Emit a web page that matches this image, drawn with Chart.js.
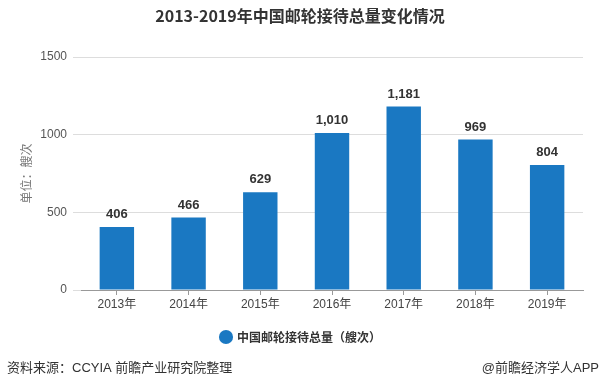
<!DOCTYPE html>
<html>
<head>
<meta charset="utf-8">
<script src="https://cdn.jsdelivr.net/npm/chart.js@4"></script>
<style>
  html, body { margin: 0; padding: 0; background: #fff; }
  #wrap { width: 599px; height: 391px; }
</style>
</head>
<body>
<div id="wrap"><canvas id="myChart" width="599" height="391"></canvas></div>
<script>
const years = ['2013年', '2014年', '2015年', '2016年', '2017年', '2018年', '2019年'];
const cruiseCalls = [406, 466, 629, 1010, 1181, 969, 804];
const yTicks = [0, 500, 1000, 1500];

const cjk = '"Liberation Sans", "Noto Sans CJK SC", sans-serif';

// draw value labels above bars, title and source line
const extras = {
  id: 'extras',
  afterDatasetsDraw(chart) {
    const ctx = chart.ctx;
    ctx.save();
    ctx.fillStyle = '#333';
    ctx.font = 'bold 13px ' + cjk;
    ctx.textAlign = 'center';
    ctx.textBaseline = 'bottom';
    chart.getDatasetMeta(0).data.forEach((bar, i) => {
      ctx.fillText(cruiseCalls[i].toLocaleString('en-US'), bar.x, bar.y - 6);
    });
    ctx.restore();
  },
  afterDraw(chart) {
    const ctx = chart.ctx;
    ctx.save();
    ctx.fillStyle = '#333';
    ctx.textBaseline = 'middle';
    ctx.textAlign = 'center';
    ctx.font = 'bold 16px "Noto Sans CJK SC", sans-serif';
    ctx.fillText('2013-2019年中国邮轮接待总量变化情况', 300, 16);
    ctx.font = '13px ' + cjk;
    ctx.textAlign = 'left';
    ctx.fillText('资料来源：CCYIA 前瞻产业研究院整理', 7, 368);
    ctx.textAlign = 'right';
    ctx.fillText('@前瞻经济学人APP', 599, 368);
    ctx.restore();
  }
};

new Chart(document.getElementById('myChart'), {
  type: 'bar',
  data: {
    labels: years,
    datasets: [{
      label: '中国邮轮接待总量（艘次）',
      data: cruiseCalls,
      backgroundColor: '#1a78c2',
      barPercentage: 0.48,
      categoryPercentage: 1
    }]
  },
  options: {
    responsive: false,
    animation: false,
    layout: { padding: { top: 57, right: 16, left: 19, bottom: 38 } },
    plugins: {
      title: { display: false },
      tooltip: { enabled: false },
      legend: {
        position: 'bottom',
        labels: {
          usePointStyle: true,
          pointStyle: 'circle',
          boxWidth: 10,
          boxHeight: 10,
          color: '#333',
          font: { family: '"Noto Sans CJK SC", sans-serif', size: 12, weight: 'bold' },
          padding: 10
        }
      }
    },
    scales: {
      x: {
        afterFit(scale) { scale.height = 31; },
        grid: { drawOnChartArea: false, offset: false, tickLength: 5, color: '#999' },
        border: { color: '#999' },
        ticks: { color: '#444', font: { family: cjk, size: 12 }, padding: 2 }
      },
      y: {
        min: 0,
        max: 1500,
        afterBuildTicks(scale) { scale.ticks = yTicks.map(v => ({ value: v })); },
        afterFit(scale) { scale.width = 62; },
        grid: { color: '#ddd', tickLength: 8 },
        border: { display: false },
        ticks: {
          color: '#555',
          font: { family: cjk, size: 12 },
          padding: 6,
          callback: v => String(v)
        },
        title: {
          display: true,
          text: '单位：艘次',
          color: '#777',
          font: { family: '"Noto Sans CJK SC", sans-serif', size: 12 },
          padding: 0
        }
      }
    }
  },
  plugins: [extras]
});
</script>
</body>
</html>
